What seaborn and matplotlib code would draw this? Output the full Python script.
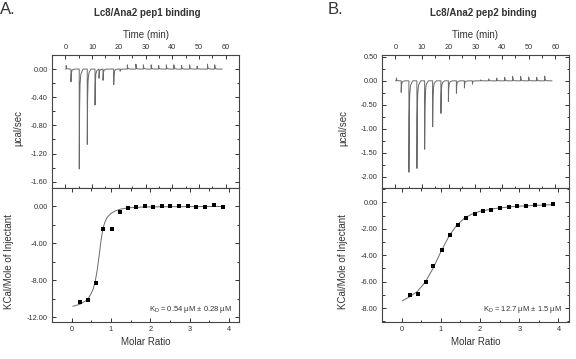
import numpy as np
import pandas as pd
import matplotlib
matplotlib.use('Agg')
import matplotlib.pyplot as plt
from matplotlib.ticker import MultipleLocator, FormatStrFormatter
import seaborn as sns

sns.set_theme(style='ticks')
plt.rcParams['font.family'] = ['Liberation Sans', 'DejaVu Sans']
plt.rcParams['text.color'] = '#333333'
plt.rcParams['axes.labelcolor'] = '#333333'
plt.rcParams['xtick.color'] = '#333333'
plt.rcParams['ytick.color'] = '#333333'
plt.rcParams['axes.edgecolor'] = '#444444'
plt.rcParams['mathtext.default'] = 'regular'

# raw thermograms: injection time (min) and peak height (ucal/sec)
inj_time_A = [0.3, 2.1, 5.2, 8.2, 11.1, 12.6, 14.1, 18.1, 20.5, 23.2, 26.4, 29.2,
              32.1, 34.9, 37.8, 40.6, 43.5, 46.5, 49.3, 53.2, 55.9]
peak_A = [0.05, -0.18, -1.42, -1.07, -0.51, -0.13, -0.16, -0.22, -0.03, 0.06, 0.07,
          0.06, 0.06, 0.05, 0.06, 0.06, 0.05, 0.06, 0.04, 0.07, 0.06]
inj_time_B = [0.4, 2.2, 5.1, 8.1, 11.0, 14.0, 17.1, 19.9, 22.9, 25.9, 28.9, 32.0,
              35.0, 38.0, 41.0, 44.0, 47.0, 50.0, 53.0, 56.0]
peak_B = [0.06, -0.24, -1.91, -1.83, -1.43, -0.96, -0.68, -0.43, -0.26, -0.15, -0.07,
          0.02, 0.04, 0.06, 0.07, 0.09, 0.09, 0.08, 0.07, 0.10]
run_end = 58.75

# integrated heats (kcal/mol of injectant) vs molar ratio
ratio = [0.21, 0.41, 0.61, 0.81, 1.02, 1.23, 1.43, 1.65, 1.86, 2.07, 2.29, 2.51,
         2.73, 2.95, 3.17, 3.40, 3.62, 3.85]
heat_A = [-10.35, -10.1, -8.25, -2.42, -2.42, -0.62, -0.14, -0.08, 0.0, -0.02, 0.0,
          0.0, 0.0, 0.0, -0.08, -0.05, 0.18, -0.1]
heat_B = [-7.0, -6.95, -6.05, -4.82, -3.62, -2.50, -1.72, -1.22, -0.88, -0.66, -0.56,
          -0.45, -0.35, -0.30, -0.27, -0.24, -0.20, -0.15]

# fitted curves
fit_x_A = [0.03, 0.2, 0.4, 0.5, 0.55, 0.6, 0.65, 0.7, 0.75, 0.8, 0.85, 0.9, 1.0, 1.1,
           1.25, 1.45, 1.8, 2.5, 3.85]
fit_y_A = [-10.8, -10.6, -10.1, -9.4, -8.9, -8.1, -6.9, -5.3, -3.6, -2.3, -1.65, -1.2,
           -0.75, -0.5, -0.28, -0.14, -0.06, -0.02, 0.0]
fit_x_B = [0.02, 0.2, 0.4, 0.6, 0.8, 1.0, 1.2, 1.4, 1.6, 1.8, 2.0, 2.4, 2.8, 3.2, 3.6, 3.85]
fit_y_B = [-7.45, -7.15, -6.75, -6.05, -5.0, -3.75, -2.6, -1.75, -1.2, -0.88, -0.68,
           -0.46, -0.33, -0.26, -0.21, -0.18]

titles = ['Lc8/Ana2 pep1 binding', 'Lc8/Ana2 pep2 binding']
kd_text = ['K$_D$ = 0.54 \u00b5M \u00b1 0.28 \u00b5M', 'K$_D$ = 12.7 \u00b5M \u00b1 1.5 \u00b5M']

# shape of one injection peak (offset in min, fraction of height)
shape_dt = np.array([-0.02, 0.0, 0.12, 0.3, 0.6, 1.4])
shape_f = np.array([0.0, 1.0, 0.4, 0.15, 0.05, 0.0])


def thermogram(times, peaks):
    t = [np.array([0.0])]
    y = [np.array([0.0])]
    for ti, hi in zip(times, peaks):
        t.append(ti + shape_dt)
        y.append(hi * shape_f)
    t.append(np.array([run_end]))
    y.append(np.array([0.0]))
    return pd.DataFrame({'t': np.concatenate(t), 'y': np.concatenate(y)})


def style_axis(ax):
    ax.tick_params(which='both', direction='in', top=True, right=True, labelsize=5.3,
                   width=0.7, pad=3)
    ax.tick_params(which='major', length=3)
    ax.tick_params(which='minor', length=1.8)
    for sp in ax.spines.values():
        sp.set_linewidth(0.8)


fig = plt.figure(figsize=(5.76, 3.59), dpi=100)

panels = [
    dict(left=0.0903, width=0.3247, times=inj_time_A, peaks=peak_A, heat=heat_A,
         fx=fit_x_A, fy=fit_y_A, top_ylim=(-1.69, 0.2), top_major=0.4, top_minor=0.2,
         bot_ylim=(-12.5, 2.0), bot_major=4, bot_minor=2, title_x=147,
         lab_top=-0.155, lab_bot=-0.205, letter='A.', letter_x=0),
    dict(left=0.6632, width=0.3241, times=inj_time_B, peaks=peak_B, heat=heat_B,
         fx=fit_x_B, fy=fit_y_B, top_ylim=(-2.24, 0.54), top_major=0.5, top_minor=0.25,
         bot_ylim=(-9.05, 1.08), bot_major=2, bot_minor=1, title_x=483,
         lab_top=-0.18, lab_bot=-0.18, letter='B.', letter_x=328),
]

for i, p in enumerate(panels):
    ax_top = fig.add_axes([p['left'], 0.4763, p['width'], 0.3705])
    ax_bot = fig.add_axes([p['left'], 0.1031, p['width'], 0.3732])

    df = thermogram(p['times'], p['peaks'])
    sns.lineplot(data=df, x='t', y='y', ax=ax_top, sort=False, estimator=None,
                 color='#6a6a6a', linewidth=0.7)
    ax_top.set_xlim(-5, 65)
    ax_top.set_ylim(*p['top_ylim'])
    ax_top.xaxis.set_major_locator(MultipleLocator(10))
    ax_top.xaxis.set_minor_locator(MultipleLocator(5))
    ax_top.yaxis.set_major_locator(MultipleLocator(p['top_major']))
    ax_top.yaxis.set_minor_locator(MultipleLocator(p['top_minor']))
    ax_top.yaxis.set_major_formatter(FormatStrFormatter('%.2f'))
    style_axis(ax_top)
    ax_top.tick_params(axis='x', labeltop=True, labelbottom=False)
    ax_top.xaxis.set_label_position('top')
    ax_top.set_xlabel('Time (min)', fontsize=7, labelpad=4)
    ax_top.set_ylabel('\u00b5cal/sec', fontsize=7)
    ax_top.yaxis.set_label_coords(p['lab_top'], 0.45)

    sns.lineplot(x=p['fx'], y=p['fy'], ax=ax_bot, sort=False, estimator=None,
                 color='#6a6a6a', linewidth=0.7)
    sns.scatterplot(x=ratio, y=p['heat'], ax=ax_bot, marker='s', s=12, color='black',
                    linewidth=0, zorder=3)
    ax_bot.set_xlim(-0.5, 4.26)
    ax_bot.set_ylim(*p['bot_ylim'])
    ax_bot.xaxis.set_major_locator(MultipleLocator(1))
    ax_bot.xaxis.set_minor_locator(MultipleLocator(0.5))
    ax_bot.yaxis.set_major_locator(MultipleLocator(p['bot_major']))
    ax_bot.yaxis.set_minor_locator(MultipleLocator(p['bot_minor']))
    ax_bot.yaxis.set_major_formatter(FormatStrFormatter('%.2f'))
    style_axis(ax_bot)
    ax_bot.set_xlabel('Molar Ratio', fontsize=7, labelpad=3)
    ax_bot.set_ylabel('KCal/Mole of Injectant', fontsize=7)
    ax_bot.yaxis.set_label_coords(p['lab_bot'], 0.45)
    ax_bot.text(0.965, 0.09, kd_text[i], transform=ax_bot.transAxes, fontsize=5.5,
                ha='right', va='center')

    fig.text(p['title_x'] / 576, 1 - 12.5 / 359, titles[i], fontsize=7,
             fontweight='bold', ha='center', va='center')
    fig.text(p['letter_x'] / 576, 1 - 10 / 359, p['letter'], fontsize=12,
             ha='left', va='center')

fig.savefig('out.png', dpi=100)
